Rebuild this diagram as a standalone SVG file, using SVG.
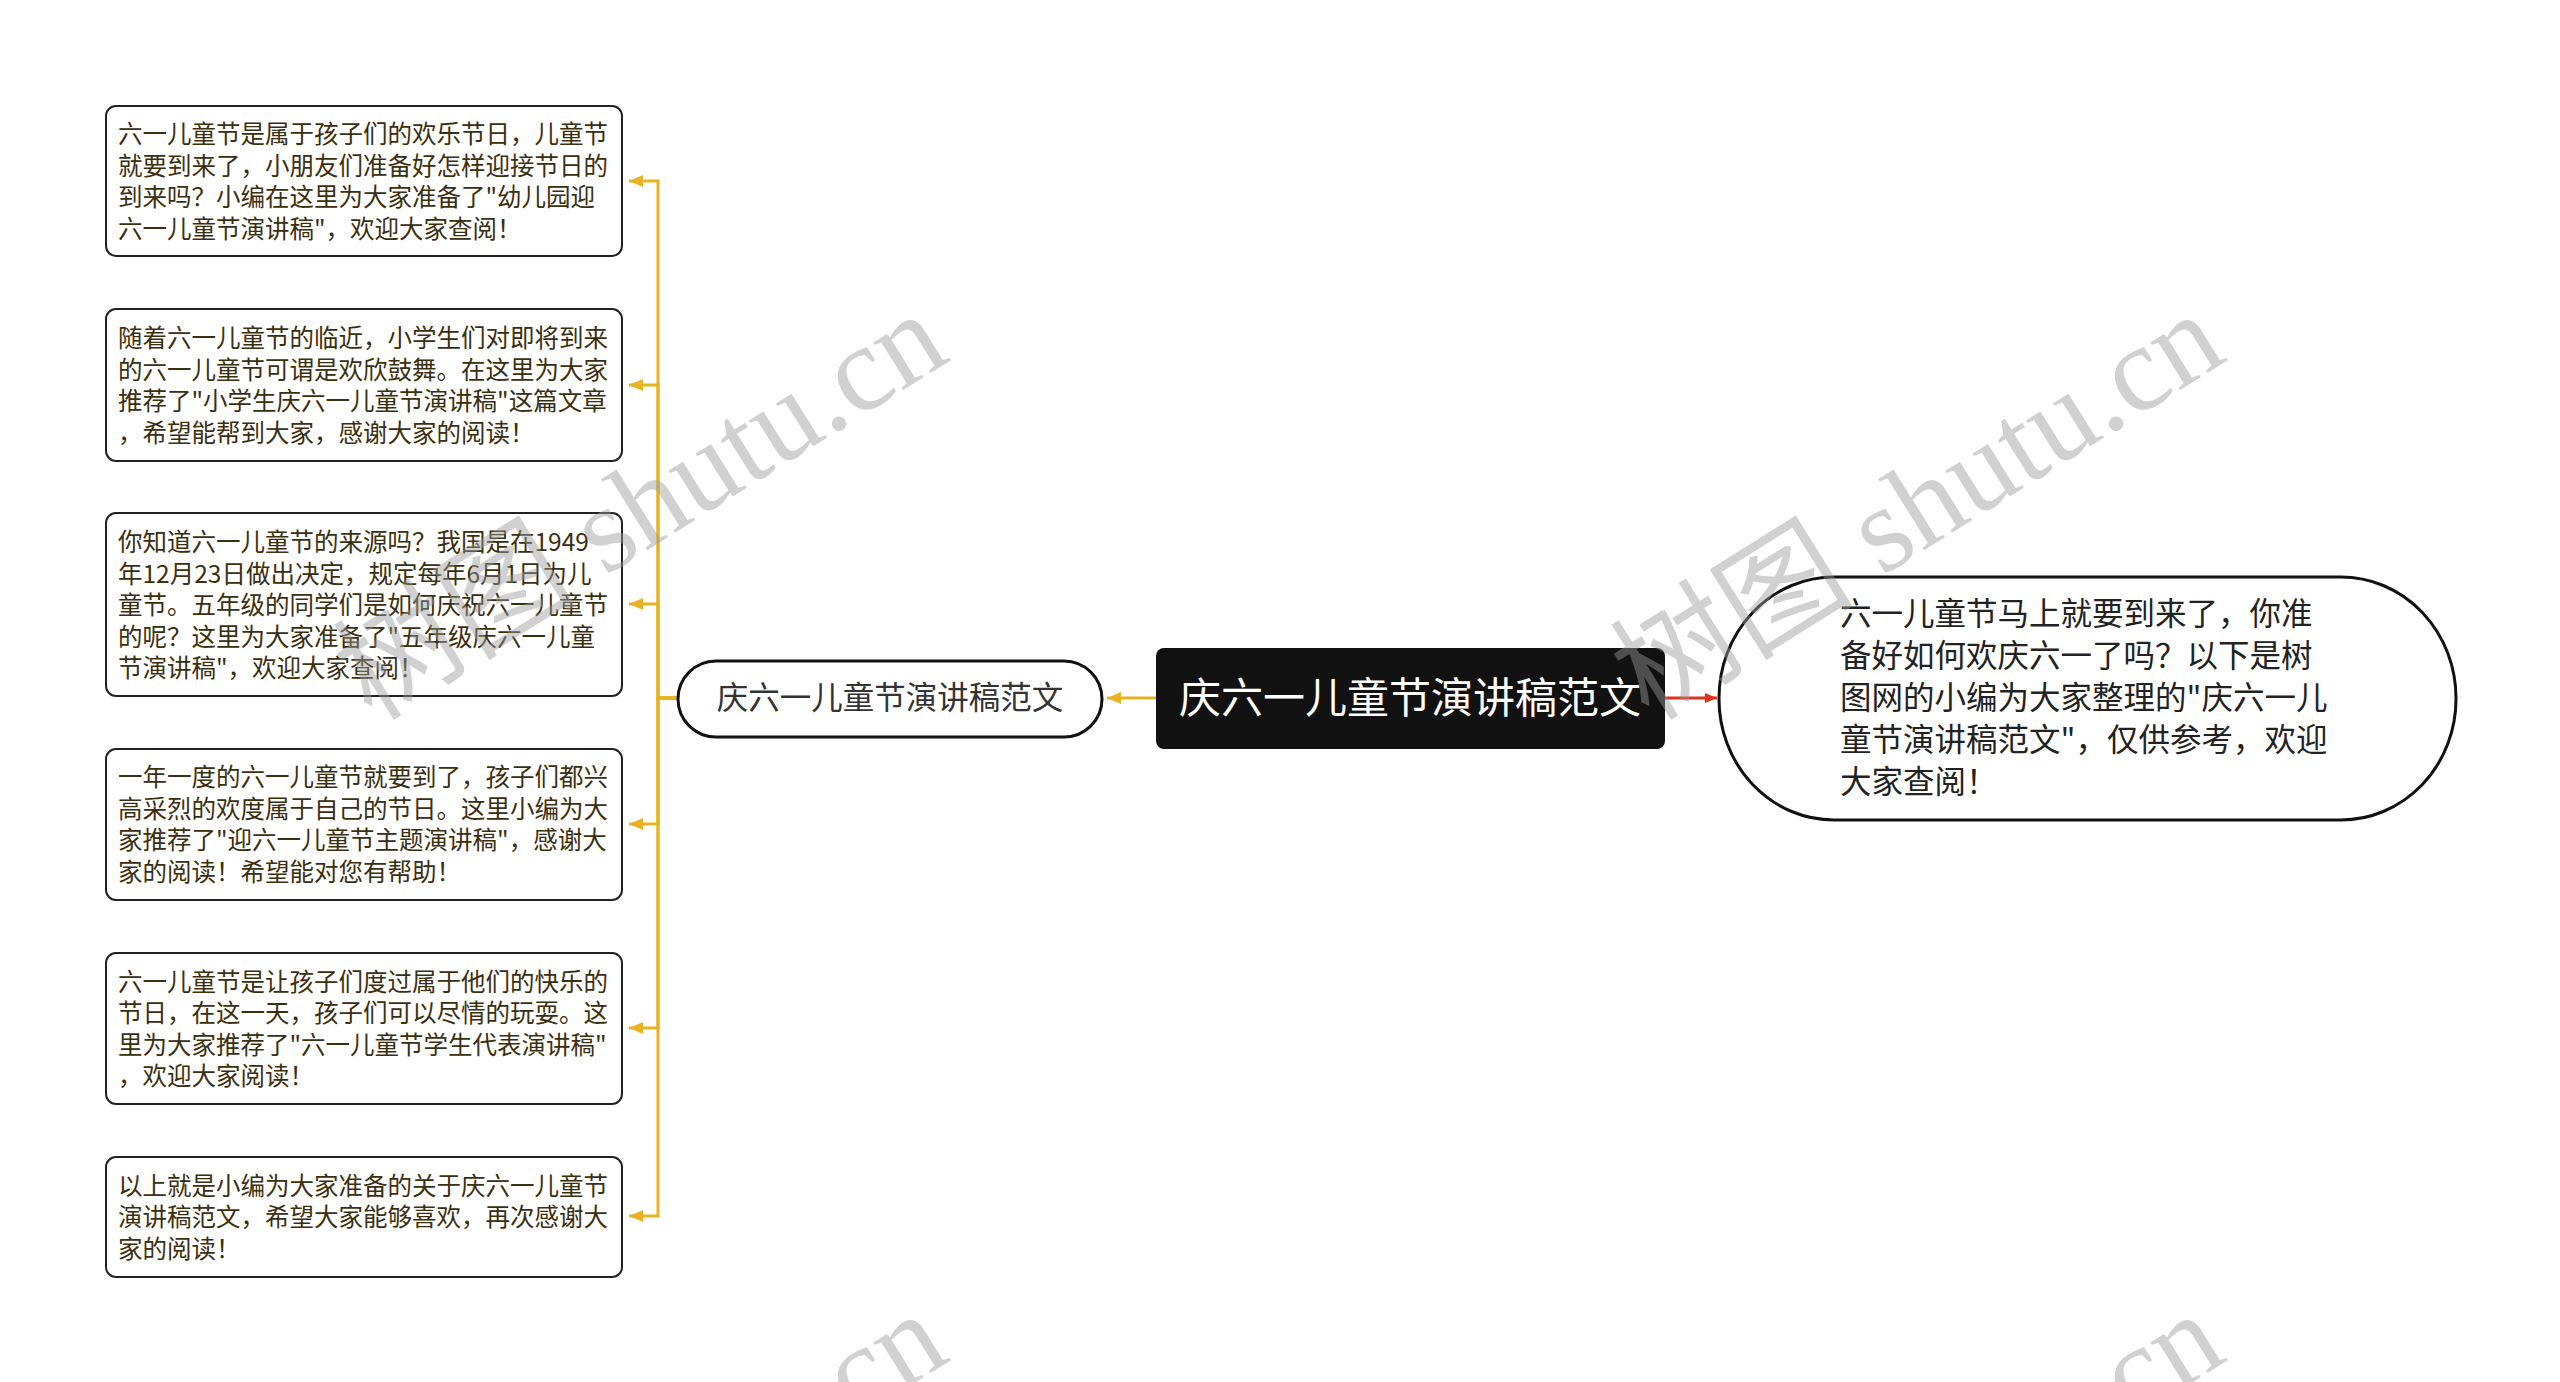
<svg xmlns="http://www.w3.org/2000/svg" width="2560" height="1382" viewBox="0 0 2560 1382">
  <style>
    .cjk { font-family: "Noto Sans CJK SC", "Noto Sans", sans-serif; }
    .leaf rect { fill: #ffffff; stroke: #222222; stroke-width: 2; }
    .leaf text { font-size: 24.5px; fill: #3a2f0e; }
    .yl { fill: none; stroke: #E8B322; stroke-width: 3; }
    .rl { fill: none; stroke: #E0321E; stroke-width: 3; }
    .wm { font-family: "Liberation Serif", "Noto Sans CJK SC", serif; font-size: 122px; fill: #9a9a9a; opacity: 0.45; }
  </style>
  <defs>
    <marker id="ay" markerUnits="userSpaceOnUse" markerWidth="16" markerHeight="14" refX="14" refY="7" orient="auto">
      <path d="M0,1 L14,7 L0,13 Z" fill="#E8B322"/>
    </marker>
    <marker id="ar" markerUnits="userSpaceOnUse" markerWidth="14" markerHeight="12" refX="12" refY="6" orient="auto">
      <path d="M0,1 L12,6 L0,11 Z" fill="#E0321E"/>
    </marker>
  </defs>
  <rect x="0" y="0" width="2560" height="1382" fill="#ffffff"/>

  <g id="connectors">
    <line class="yl" x1="1156" y1="698" x2="1107" y2="698" marker-end="url(#ay)"/>
    <line class="rl" x1="1665" y1="698" x2="1717" y2="698" marker-end="url(#ar)"/>
    <path class="yl" d="M678,698 H658 V181 H629" marker-end="url(#ay)"/>
    <path class="yl" d="M678,698 H658 V385 H629" marker-end="url(#ay)"/>
    <path class="yl" d="M678,698 H658 V604 H629" marker-end="url(#ay)"/>
    <path class="yl" d="M678,698 H658 V824 H629" marker-end="url(#ay)"/>
    <path class="yl" d="M678,698 H658 V1028 H629" marker-end="url(#ay)"/>
    <path class="yl" d="M678,698 H658 V1216 H629" marker-end="url(#ay)"/>
  </g>

  <g id="root">
    <rect x="1156" y="648" width="509" height="101" rx="8" fill="#111111"/>
    <text class="cjk" x="1410" y="713" font-size="42" fill="#ffffff" text-anchor="middle">庆六一儿童节演讲稿范文</text>
  </g>

  <g id="sub">
    <rect x="678" y="661" width="424" height="76" rx="38" fill="#ffffff" stroke="#111111" stroke-width="3"/>
    <text class="cjk" x="890" y="709" font-size="31.5" fill="#333333" text-anchor="middle">庆六一儿童节演讲稿范文</text>
  </g>

  <g id="summary">
    <rect x="1719" y="577" width="737" height="243" rx="115" ry="121" fill="#ffffff" stroke="#111111" stroke-width="3"/>
    <text class="cjk" font-size="31.5" fill="#222222">
      <tspan x="1840" y="625">六一儿童节马上就要到来了，你准</tspan>
      <tspan x="1840" y="667">备好如何欢庆六一了吗？以下是树</tspan>
      <tspan x="1840" y="709">图网的小编为大家整理的"庆六一儿</tspan>
      <tspan x="1840" y="751">童节演讲稿范文"，仅供参考，欢迎</tspan>
      <tspan x="1840" y="793">大家查阅！</tspan>
    </text>
  </g>

  <g id="leaf1" class="leaf">
    <rect x="106" y="106" width="516" height="150" rx="10"/>
    <text class="cjk">
      <tspan x="118" y="143">六一儿童节是属于孩子们的欢乐节日，儿童节</tspan>
      <tspan x="118" y="174.5">就要到来了，小朋友们准备好怎样迎接节日的</tspan>
      <tspan x="118" y="206">到来吗？小编在这里为大家准备了"幼儿园迎</tspan>
      <tspan x="118" y="237.5">六一儿童节演讲稿"，欢迎大家查阅！</tspan>
    </text>
  </g>

  <g id="leaf2" class="leaf">
    <rect x="106" y="309" width="516" height="152" rx="10"/>
    <text class="cjk">
      <tspan x="118" y="347">随着六一儿童节的临近，小学生们对即将到来</tspan>
      <tspan x="118" y="378.5">的六一儿童节可谓是欢欣鼓舞。在这里为大家</tspan>
      <tspan x="118" y="410">推荐了"小学生庆六一儿童节演讲稿"这篇文章</tspan>
      <tspan x="118" y="441.5">，希望能帮到大家，感谢大家的阅读！</tspan>
    </text>
  </g>

  <g id="leaf3" class="leaf">
    <rect x="106" y="513" width="516" height="183" rx="10"/>
    <text class="cjk">
      <tspan x="118" y="551">你知道六一儿童节的来源吗？我国是在1949</tspan>
      <tspan x="118" y="582.5">年12月23日做出决定，规定每年6月1日为儿</tspan>
      <tspan x="118" y="614">童节。五年级的同学们是如何庆祝六一儿童节</tspan>
      <tspan x="118" y="645.5">的呢？这里为大家准备了"五年级庆六一儿童</tspan>
      <tspan x="118" y="677">节演讲稿"，欢迎大家查阅！</tspan>
    </text>
  </g>

  <g id="leaf4" class="leaf">
    <rect x="106" y="749" width="516" height="151" rx="10"/>
    <text class="cjk">
      <tspan x="118" y="786">一年一度的六一儿童节就要到了，孩子们都兴</tspan>
      <tspan x="118" y="817.5">高采烈的欢度属于自己的节日。这里小编为大</tspan>
      <tspan x="118" y="849">家推荐了"迎六一儿童节主题演讲稿"，感谢大</tspan>
      <tspan x="118" y="880.5">家的阅读！希望能对您有帮助！</tspan>
    </text>
  </g>

  <g id="leaf5" class="leaf">
    <rect x="106" y="953" width="516" height="151" rx="10"/>
    <text class="cjk">
      <tspan x="118" y="990.5">六一儿童节是让孩子们度过属于他们的快乐的</tspan>
      <tspan x="118" y="1022">节日，在这一天，孩子们可以尽情的玩耍。这</tspan>
      <tspan x="118" y="1053.5">里为大家推荐了"六一儿童节学生代表演讲稿"</tspan>
      <tspan x="118" y="1085">，欢迎大家阅读！</tspan>
    </text>
  </g>

  <g id="leaf6" class="leaf">
    <rect x="106" y="1157" width="516" height="120" rx="10"/>
    <text class="cjk">
      <tspan x="118" y="1194.5">以上就是小编为大家准备的关于庆六一儿童节</tspan>
      <tspan x="118" y="1226">演讲稿范文，希望大家能够喜欢，再次感谢大</tspan>
      <tspan x="118" y="1257.5">家的阅读！</tspan>
    </text>
  </g>

  <g id="watermarks">
    <text class="wm" transform="translate(372,722) rotate(-32)">树图 shutu.cn</text>
    <text class="wm" transform="translate(1649,722) rotate(-32)">树图 shutu.cn</text>
    <text class="wm" transform="translate(372,1722) rotate(-32)">树图 shutu.cn</text>
    <text class="wm" transform="translate(1649,1722) rotate(-32)">树图 shutu.cn</text>
  </g>
</svg>
